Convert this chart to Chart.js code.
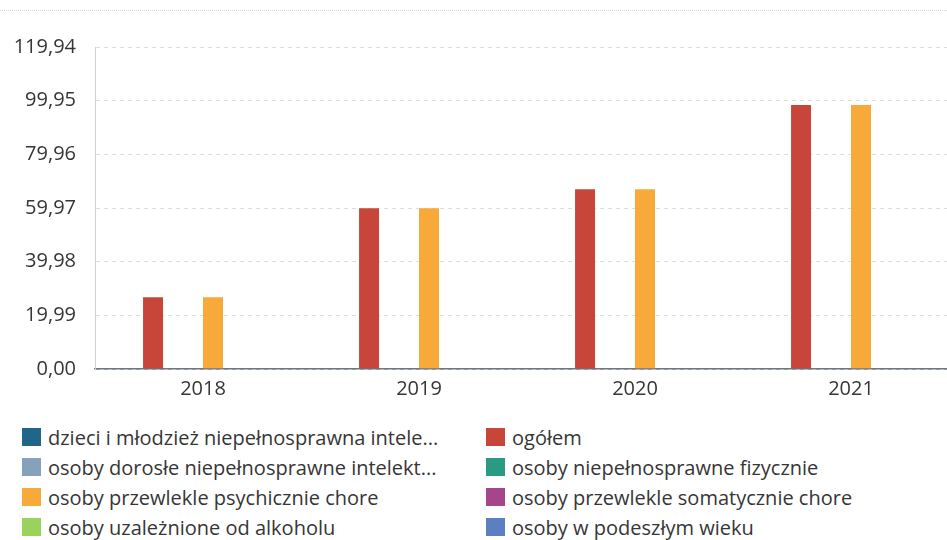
<!DOCTYPE html>
<html>
<head>
<meta charset="utf-8">
<script src="https://cdn.jsdelivr.net/npm/chart.js@4"></script>
<style>
  html, body { margin: 0; padding: 0; background: #fff; overflow: hidden; }
  body { width: 947px; height: 540px; position: relative; font-family: 'Open Sans', sans-serif; }
  #topline { position: absolute; left: 0; right: 0; top: 10px; border-top: 1px dotted #d8d8d8; }
  #wrap { position: absolute; left: 0; top: 0; width: 960px; height: 405px; }
  #legend { position: absolute; left: 0; top: 422px; width: 947px; }
  .item { position: absolute; height: 30px; display: flex; align-items: center; font-size: 20px; color: #363636; white-space: nowrap; }
  .box { width: 19px; height: 18px; margin-right: 7px; flex: none; }
</style>
</head>
<body>
<div id="topline"></div>
<div id="wrap"><canvas id="myChart" width="960" height="405"></canvas></div>
<div id="legend"></div>
<script>
const years = ['2018', '2019', '2020', '2021']
const yTicks = [0, 19.99, 39.98, 59.97, 79.96, 99.95, 119.94]

const names = [
  'dzieci i młodzież niepełnosprawna intele...',
  'ogółem',
  'osoby dorosłe niepełnosprawne intelekt...',
  'osoby niepełnosprawne fizycznie',
  'osoby przewlekle psychicznie chore',
  'osoby przewlekle somatycznie chore',
  'osoby uzależnione od alkoholu',
  'osoby w podeszłym wieku'
]
const colors = ['#1f6688', '#c8453a', '#86a2bb', '#2a9a82', '#f7a93a', '#a5468c', '#9ad35c', '#5b7fc2']

const dzieci = [0, 0, 0, 0]
const ogolem = [26.7, 59.9, 67.0, 98.3]
const dorosle = [0, 0, 0, 0]
const fizycznie = [0, 0, 0, 0]
const psychicznie = [26.7, 59.9, 67.0, 98.3]
const somatycznie = [0, 0, 0, 0]
const alkohol = [0, 0, 0, 0]
const wiek = [0, 0, 0, 0]
const series = [dzieci, ogolem, dorosle, fizycznie, psychicznie, somatycznie, alkohol, wiek]

const fmt = v => v.toFixed(2).replace('.', ',')

;(() => {
  'use strict'

  const ctx = document.getElementById('myChart')

  var myChart = new Chart(ctx, {
    type: 'bar',
    data: {
      labels: years,
      datasets: series.map((d, i) => ({
        label: names[i],
        data: d,
        backgroundColor: colors[i],
        borderWidth: 0,
        categoryPercentage: 0.74,
        barPercentage: 1.0
      }))
    },
    options: {
      responsive: false,
      animation: false,
      layout: { padding: { top: 47, right: 1, left: 0, bottom: 0 } },
      plugins: {
        legend: { display: false },
        tooltip: { enabled: false }
      },
      scales: {
        x: {
          grid: { display: false, drawTicks: false },
          border: { display: true, color: '#6e7782', width: 1.5 },
          ticks: { padding: 8, color: '#363636', font: { family: 'Open Sans', size: 20 } },
          afterFit: s => { s.height = 36 }
        },
        y: {
          min: 0,
          max: 119.94,
          afterBuildTicks: s => { s.ticks = yTicks.map(v => ({ value: v })) },
          grid: {
            drawTicks: false,
            color: c => c.tick && c.tick.value === 0 ? '#6e7782' : '#dcdcdc',
            lineWidth: c => c.tick && c.tick.value === 0 ? 1.5 : 1
          },
          // in v4 this dash also applies to the grid lines
          border: { display: true, color: '#d0d0d0', dash: [4, 4] },
          ticks: {
            padding: 19,
            color: '#363636',
            font: { family: 'Open Sans', size: 20 },
            callback: v => fmt(v)
          },
          afterFit: s => { s.width = 95 }
        }
      }
    }
  })

  // legend in two columns, built from the datasets
  const leg = document.getElementById('legend')
  myChart.data.datasets.forEach((ds, i) => {
    const el = document.createElement('div')
    el.className = 'item'
    el.style.left = (i % 2 === 0 ? 22 : 486) + 'px'
    el.style.top = (Math.floor(i / 2) * 30) + 'px'
    el.innerHTML = '<span class="box" style="background:' + ds.backgroundColor + '"></span><span>' + ds.label + '</span>'
    leg.appendChild(el)
  })
})()
</script>
</body>
</html>
